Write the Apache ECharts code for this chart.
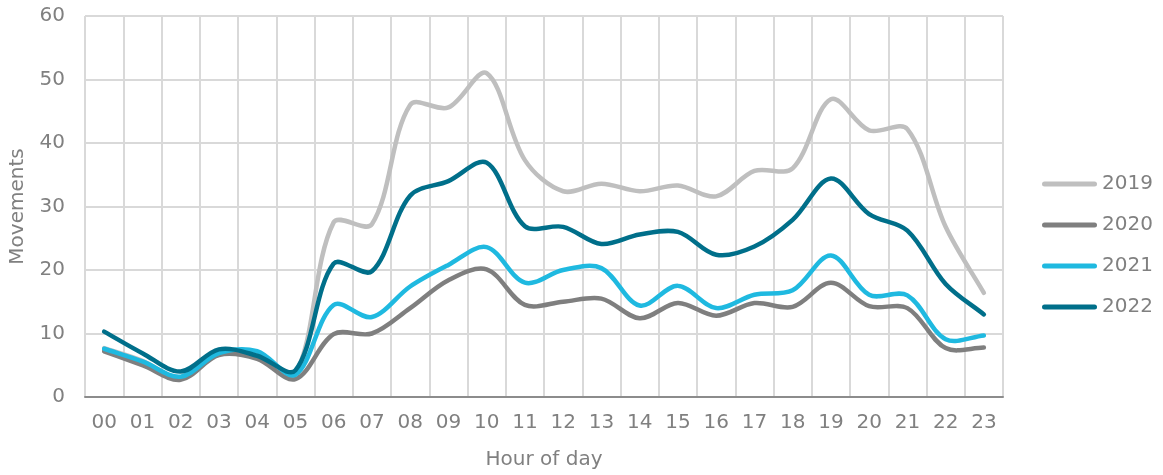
<!DOCTYPE html>
<html>
<head>
<meta charset="utf-8">
<style>
  html, body { margin: 0; padding: 0; background: #ffffff; }
  #chart { width: 1163px; height: 475px; }
</style>
<script src="https://cdn.jsdelivr.net/npm/echarts@6/dist/echarts.min.js"></script>
</head>
<body>
<div id="chart"></div>
<script>
// Hourly movements by year
const hours = ['00','01','02','03','04','05','06','07','08','09','10','11',
               '12','13','14','15','16','17','18','19','20','21','22','23'];
const years = ['2019', '2020', '2021', '2022'];
const movements2019 = [7.7, 5.7, 3.0, 6.8, 6.2, 3.6, 27.5, 27.2, 46.0, 45.6, 51.0, 37.3,
                       32.4, 33.6, 32.4, 33.3, 31.6, 35.6, 36.0, 46.9, 42.0, 42.2, 26.8, 16.4];
const movements2020 = [7.2, 5.0, 2.7, 6.6, 6.0, 2.8, 9.9, 10.0, 14.0, 18.4, 20.1, 14.5,
                       15.0, 15.5, 12.4, 14.8, 12.8, 14.8, 14.2, 18.0, 14.3, 14.0, 7.7, 7.8];
const movements2021 = [7.6, 5.6, 3.2, 6.9, 7.2, 3.5, 14.5, 12.6, 17.4, 20.8, 23.6, 18.0,
                       20.0, 20.3, 14.4, 17.5, 14.0, 16.1, 16.8, 22.3, 16.1, 16.0, 9.1, 9.7];
const movements2022 = [10.3, 6.9, 4.0, 7.5, 6.5, 4.2, 21.0, 19.8, 31.7, 34.0, 36.9, 26.9,
                       26.8, 24.1, 25.6, 26.0, 22.4, 23.7, 27.9, 34.4, 28.8, 26.2, 17.8, 13.0];
const yTicks = [0, 10, 20, 30, 40, 50, 60];

const colors = ['#bfbfbf', '#7f7f7f', '#1fb9e0', '#006f8a'];
const seriesData = [movements2019, movements2020, movements2021, movements2022];
const FONT = '"DejaVu Sans", sans-serif';
const TEXT = '#808080';
const FS = 20;

// Smooth curve through every point: cubic Bezier segments whose tangents follow the
// neighbouring points, weighted by segment length. Point positions come from the
// chart's own axes via api.coord.
function smoothLineRenderer(values, color) {
  return function (params, api) {
    if (params.dataIndex !== 0) return null;
    const pts = values.map((v, i) => api.coord([i, v]));
    const n = pts.length;
    const dist = (a, b) => Math.hypot(b[0] - a[0], b[1] - a[1]);
    const seg = [];
    for (let i = 0; i < n - 1; i++) seg.push(dist(pts[i], pts[i + 1]));
    const tangent = i => {
      const a = pts[Math.max(i - 1, 0)];
      const b = pts[Math.min(i + 1, n - 1)];
      return [b[0] - a[0], b[1] - a[1]];
    };
    const weight = (i, s) => {
      // share of the tangent used on segment s at point i
      const prev = i > 0 ? seg[i - 1] : 0;
      const next = i < n - 1 ? seg[i] : 0;
      const total = prev + next;
      return total > 0 ? seg[s] / total : 0;
    };
    const k = 1 / 3;
    let d = 'M' + pts[0][0] + ',' + pts[0][1];
    for (let i = 0; i < n - 1; i++) {
      const t1 = tangent(i);
      const t2 = tangent(i + 1);
      const w1 = weight(i, i) * k;
      const w2 = weight(i + 1, i) * k;
      const c1x = pts[i][0] + t1[0] * w1;
      const c1y = pts[i][1] + t1[1] * w1;
      const c2x = pts[i + 1][0] - t2[0] * w2;
      const c2y = pts[i + 1][1] - t2[1] * w2;
      d += ' C' + c1x + ',' + c1y + ' ' + c2x + ',' + c2y + ' ' + pts[i + 1][0] + ',' + pts[i + 1][1];
    }
    return {
      type: 'path',
      shape: { pathData: d },
      style: { stroke: color, lineWidth: 4.5, fill: null, lineCap: 'round', lineJoin: 'round' }
    };
  };
}

const chart = echarts.init(document.getElementById('chart'), null, { renderer: 'canvas' });

chart.setOption({
  animation: false,
  color: colors,
  grid: { left: 85, right: 160, top: 16, bottom: 78, containLabel: false, outerBoundsMode: 'none' },
  legend: {
    orient: 'vertical',
    left: 1042,
    top: 173,
    padding: 0,
    itemWidth: 55,
    itemHeight: 5,
    itemGap: 19,
    icon: 'path://M2.5,0 H52.5 A2.5,2.5 0 0 1 52.5,5 H2.5 A2.5,2.5 0 0 1 2.5,0 Z',
    textStyle: { color: TEXT, fontFamily: FONT, fontSize: FS, lineHeight: 22 },
    data: years
  },
  xAxis: {
    type: 'category',
    data: hours,
    boundaryGap: true,
    name: 'Hour of day',
    nameLocation: 'middle',
    nameGap: 53,
    nameTextStyle: { color: TEXT, fontFamily: FONT, fontSize: FS },
    axisLine: { show: true, lineStyle: { color: '#8c8c8c', width: 2 } },
    axisTick: { show: false },
    axisLabel: { color: TEXT, fontFamily: FONT, fontSize: FS, margin: 16, interval: 0 },
    splitLine: { show: true, interval: 0, lineStyle: { color: '#d9d9d9', width: 2 } }
  },
  yAxis: {
    type: 'value',
    min: 0,
    max: 60,
    interval: 10,
    name: 'Movements',
    nameLocation: 'middle',
    nameGap: 57,
    nameRotate: 90,
    nameTextStyle: { color: TEXT, fontFamily: FONT, fontSize: FS },
    axisLine: { show: false },
    axisTick: { show: false },
    axisLabel: {
      color: TEXT, fontFamily: FONT, fontSize: FS, margin: 20,
      formatter: v => (yTicks.includes(v) ? String(v) : '')
    },
    splitLine: { show: true, lineStyle: { color: '#d9d9d9', width: 2 } }
  },
  series: years.map((y, i) => ({
    name: y,
    type: 'custom',
    coordinateSystem: 'cartesian2d',
    data: seriesData[i].map((v, k) => [k, v]),
    encode: { x: 0, y: 1 },
    renderItem: smoothLineRenderer(seriesData[i], colors[i]),
    itemStyle: { color: colors[i] },
    clip: false,
    z: 2 + i
  }))
});
</script>
</body>
</html>
